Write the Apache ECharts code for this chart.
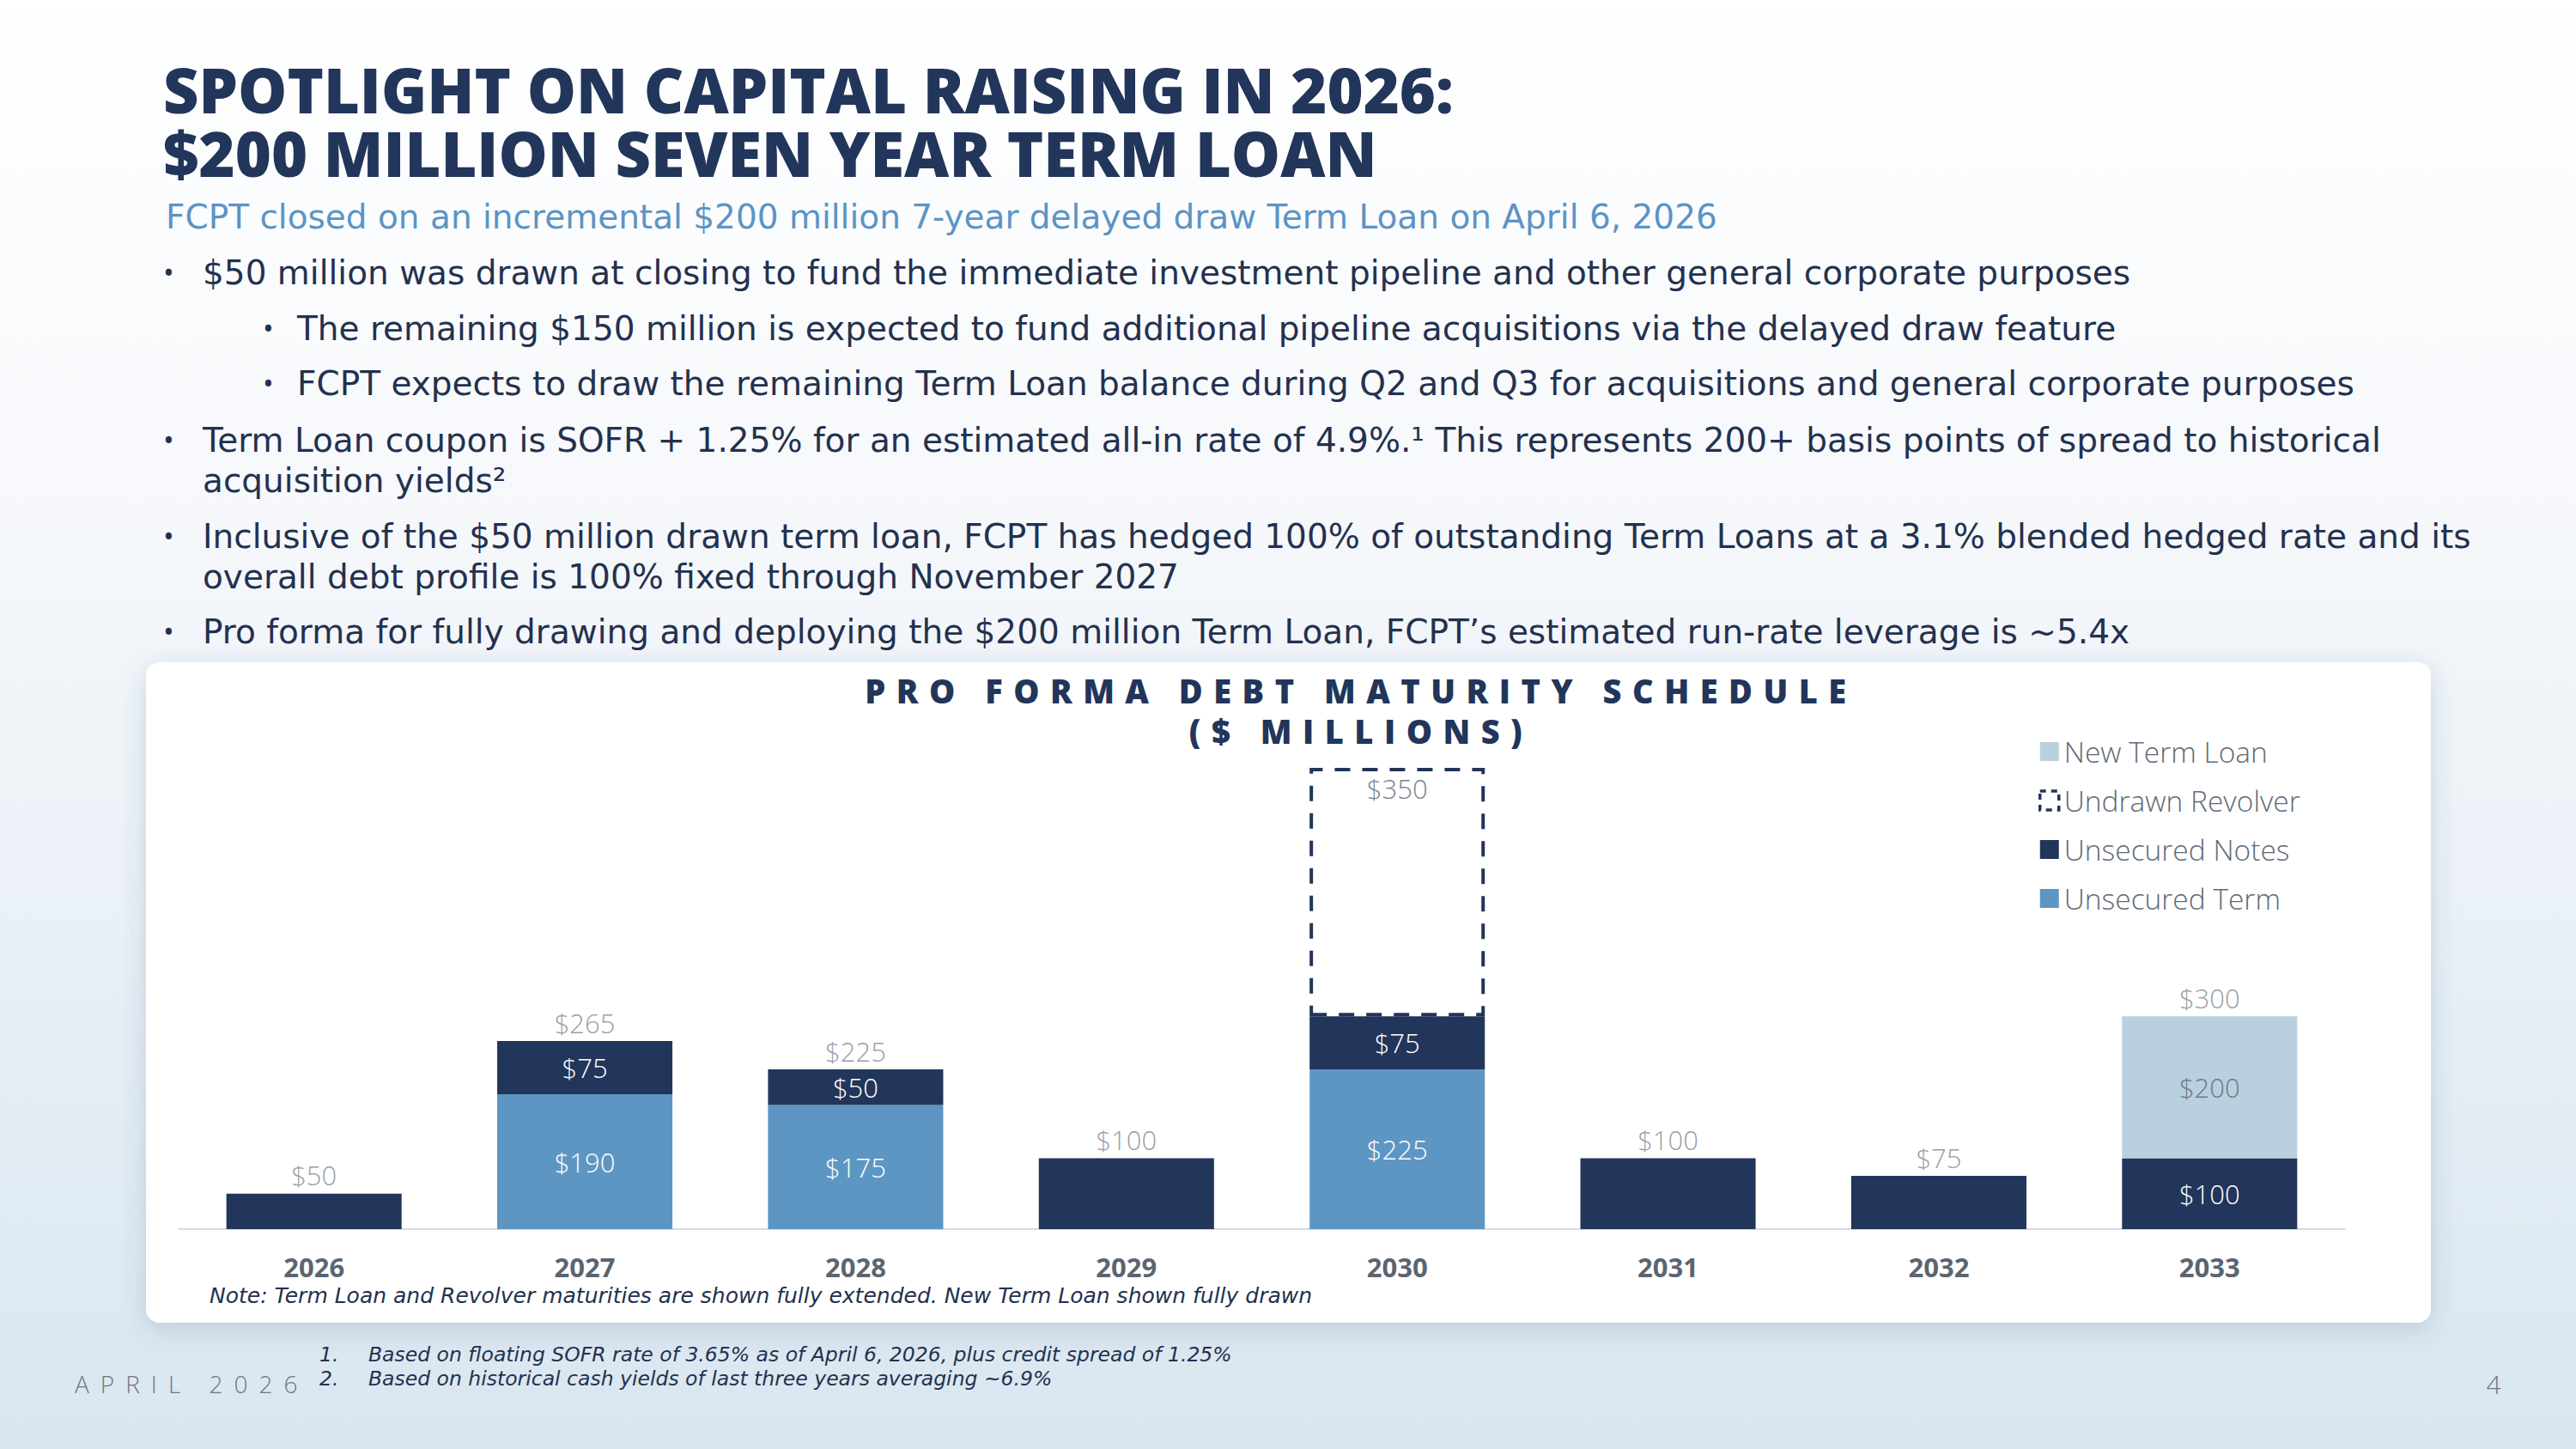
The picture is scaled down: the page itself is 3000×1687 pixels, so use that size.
<!DOCTYPE html>
<html>
<head>
<meta charset="utf-8">
<script src="https://cdn.jsdelivr.net/npm/echarts@6/dist/echarts.min.js"></script>
<style>
html,body{margin:0;padding:0;width:3000px;height:1687px;overflow:hidden;}
#main{width:3000px;height:1687px;}
</style>
</head>
<body>
<div id="main"></div>
<script>
// ---- data ----
const years = ['2026','2027','2028','2029','2030','2031','2032','2033'];
const unsecuredTerm = [null,190,175,null,225,null,null,null];
const unsecuredNotes = [50,75,50,100,75,100,75,100];
const newTermLoan = [null,null,null,null,null,null,null,200];
const undrawnRevolver = [null,null,null,null,350,null,null,null];
const totalLabels = [50,265,225,100,null,100,75,300];
const legendNames = ['New Term Loan','Undrawn Revolver','Unsecured Notes','Unsecured Term'];

const titleLines = ['SPOTLIGHT ON CAPITAL RAISING IN 2026:','$200 MILLION SEVEN YEAR TERM LOAN'];
const subtitle = 'FCPT closed on an incremental $200 million 7-year delayed draw Term Loan on April 6, 2026';
const bullets = [
  {lvl:0, lines:['$50 million was drawn at closing to fund the immediate investment pipeline and other general corporate purposes']},
  {lvl:1, lines:['The remaining $150 million is expected to fund additional pipeline acquisitions via the delayed draw feature']},
  {lvl:1, lines:['FCPT expects to draw the remaining Term Loan balance during Q2 and Q3 for acquisitions and general corporate purposes']},
  {lvl:0, lines:['Term Loan coupon is SOFR + 1.25% for an estimated all-in rate of 4.9%.\u00b9 This represents 200+ basis points of spread to historical','acquisition yields\u00b2']},
  {lvl:0, lines:['Inclusive of the $50 million drawn term loan, FCPT has hedged 100% of outstanding Term Loans at a 3.1% blended hedged rate and its','overall debt profile is 100% fixed through November 2027']},
  {lvl:0, lines:['Pro forma for fully drawing and deploying the $200 million Term Loan, FCPT\u2019s estimated run-rate leverage is ~5.4x']}
];
const chartTitle = ['PRO FORMA DEBT MATURITY SCHEDULE','($ MILLIONS)'];
const noteText = 'Note: Term Loan and Revolver maturities are shown fully extended. New Term Loan shown fully drawn';
const footnotes = ['Based on floating SOFR rate of 3.65% as of April 6, 2026, plus credit spread of 1.25%','Based on historical cash yields of last three years averaging ~6.9%'];
const footerDate = 'APRIL 2026';
const pageNum = '4';

// ---- styles ----
const NAVY = '#22355a', MID = '#5e96c3', LIGHT = '#b9d0df';
const GRAY = '#7a848e', TEXT = '#23314f';
const FONT = '"Open Sans", "Noto Sans", sans-serif';
const BODY = '"DejaVu Sans", "Open Sans", sans-serif';

const chart = echarts.init(document.getElementById('main'), null, {renderer:'svg'});

const g = [];
g.push({type:'rect', z:-10, silent:true, shape:{x:0,y:0,width:3000,height:1687},
  style:{fill:new echarts.graphic.LinearGradient(0,0,0,1,[{offset:0,color:'#ffffff'},{offset:0.35,color:'#f6f8fb'},{offset:1,color:'#d9e6f0'}])}});
g.push({type:'rect', z:-9, silent:true, shape:{x:170,y:771,width:2661,height:769,r:16},
  style:{fill:'#ffffff', shadowBlur:30, shadowColor:'rgba(40,70,110,0.18)', shadowOffsetY:8}});
g.push({type:'text', z:5, x:190, y:67,
  style:{text:titleLines.join('\n'), fill:'#22355a', font:'800 72px '+FONT, lineHeight:74, verticalAlign:'top'}});
g.push({type:'text', z:5, x:193, y:252, style:{text:subtitle, fill:'#5b94c5', font:'400 39px '+BODY, verticalAlign:'middle'}});
const bulletBase = [330,395,459,525,637,748];
bullets.forEach((b,i)=>{
  const dotX = b.lvl ? 306 : 190, txtX = b.lvl ? 346 : 236;
  g.push({type:'text', z:5, x:dotX, y:bulletBase[i]-13, style:{text:'\u2022', fill:TEXT, font:'400 34px '+FONT, verticalAlign:'middle'}});
  g.push({type:'text', z:5, x:txtX, y:bulletBase[i]-13-23.5,
    style:{text:b.lines.join('\n'), fill:TEXT, font:'400 39px '+BODY, lineHeight:47, verticalAlign:'top'}});
});
g.push({type:'text', z:5, x:244, y:1508, style:{text:noteText, fill:TEXT, font:'italic 400 25px '+BODY, verticalAlign:'middle'}});
footnotes.forEach((f,i)=>{
  g.push({type:'text', z:5, x:372, y:1577+i*28, style:{text:(i+1)+'.', fill:TEXT, font:'italic 400 23.5px '+BODY, verticalAlign:'middle'}});
  g.push({type:'text', z:5, x:429, y:1577+i*28, style:{text:f, fill:TEXT, font:'italic 400 23.5px '+BODY, verticalAlign:'middle'}});
});
g.push({type:'text', z:5, x:87, y:1611, style:{text:footerDate, fill:'#6e7882', font:'300 28px '+FONT, verticalAlign:'middle'}});
g.push({type:'text', z:5, x:2904, y:1611, style:{text:pageNum, fill:'#6e7882', font:'300 30px '+FONT, verticalAlign:'middle', align:'center'}});

const labelFont = {fontFamily:FONT, fontSize:31, fontWeight:300};
const hasStack = years.map((_,i)=>unsecuredTerm[i]!=null || newTermLoan[i]!=null);
const fmt = p => '$' + p.value;

const option = {
  animation:false,
  title:{text:chartTitle.join('\n'), left:1580, textAlign:'center', top:775,
    textStyle:{fontFamily:FONT, fontWeight:800, fontSize:38, color:'#22355a', lineHeight:47}},
  graphic:g,
  legend:{
    data:[
      {name:legendNames[0]},
      {name:legendNames[1], itemStyle:{color:'rgba(255,255,255,0)', borderColor:NAVY, borderWidth:3.5, borderType:[7,6]}},
      {name:legendNames[2]},
      {name:legendNames[3]}
    ],
    icon:'rect', orient:'vertical', left:2369, top:853, itemWidth:22, itemHeight:22, itemGap:23,
    textStyle:{fontFamily:FONT, fontSize:33.5, fontWeight:300, color:'#5f6b76', padding:[0,0,0,1]}},
  grid:{left:208, right:269, top:894, bottom:256},
  xAxis:{type:'category', data:years, z:5,
    axisLine:{lineStyle:{color:'#d3dde7', width:2}}, axisTick:{show:false},
    axisLabel:{margin:28, fontFamily:FONT, fontSize:31, fontWeight:700, color:'#5a6570'}},
  yAxis:{type:'value', min:0, max:650, show:false, splitLine:{show:false}},
  series:[
    {name:'Unsecured Term', type:'bar', stack:'d', barWidth:'64.7%', data:unsecuredTerm, z:6,
      itemStyle:{color:MID},
      label:{show:true, position:'inside', color:'#ffffff', formatter:fmt, ...labelFont}},
    {name:'Unsecured Notes', type:'bar', stack:'d', barWidth:'64.7%', z:6,
      data:unsecuredNotes.map((v,i)=>({value:v, label:{show:hasStack[i]}})),
      itemStyle:{color:NAVY},
      label:{show:true, position:'inside', color:'#ffffff', formatter:fmt, ...labelFont}},
    {name:'New Term Loan', type:'bar', stack:'d', barWidth:'64.7%', data:newTermLoan, z:6,
      itemStyle:{color:LIGHT},
      label:{show:true, position:'inside', color:'#6f7a86', formatter:fmt, ...labelFont}},
    {name:'Undrawn Revolver', type:'bar', stack:'d', barWidth:'64.7%', data:undrawnRevolver, z:7,
      itemStyle:{color:'rgba(255,255,255,0)', borderColor:NAVY, borderWidth:4, borderType:[18,14]},
      label:{show:true, position:'insideTop', distance:8, color:GRAY, formatter:fmt, ...labelFont}},
    {name:'Total', type:'scatter', data:totalLabels, symbolSize:0, silent:true, z:7,
      label:{show:true, position:'top', distance:6, color:GRAY, formatter:fmt, ...labelFont}}
  ]
};
chart.setOption(option);

function spaceOut(){
  const spacing = {'PRO FORMA DEBT MATURITY SCHEDULE':12.5, '($ MILLIONS)':12.5, 'APRIL 2026':13};
  document.querySelectorAll('#main svg text, #main svg tspan').forEach(el=>{
    const t = el.textContent;
    if (spacing[t] !== undefined) el.setAttribute('letter-spacing', spacing[t]);
  });
}
spaceOut();
chart.on('finished', spaceOut);
setTimeout(spaceOut, 50);
</script>
</body>
</html>
